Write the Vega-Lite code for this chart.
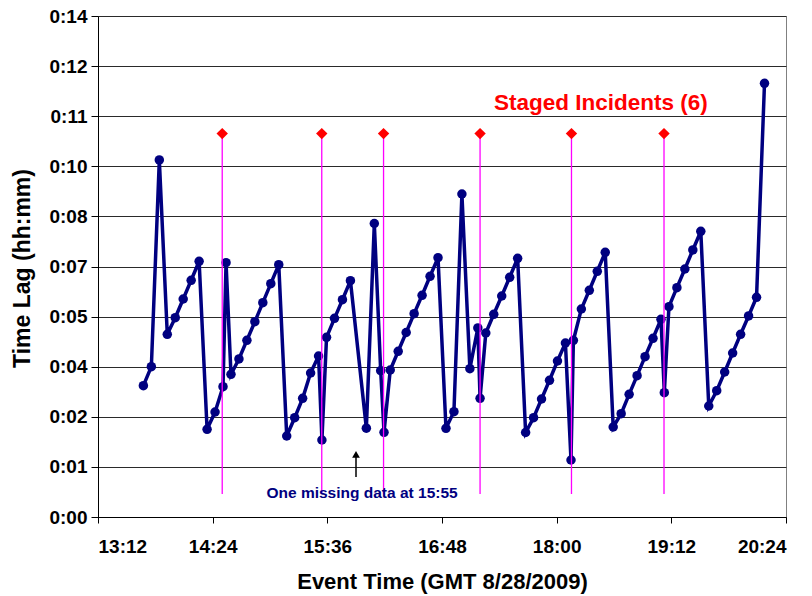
{
  "$schema": "https://vega.github.io/schema/vega-lite/v6.json",
  "width": 688,
  "height": 501,
  "autosize": {"type": "none"},
  "padding": {"left": 98, "top": 16, "right": 26, "bottom": 79},
  "background": "white",
  "config": {
    "font": "Liberation Sans",
    "view": {"stroke": "#808080", "strokeWidth": 1}
  },
  "datasets": {
    "series": [
      {"t": 820.5, "lag": 3.774}, {"t": 825.5, "lag": 4.320}, {"t": 830.5, "lag": 10.262}, {"t": 835.5, "lag": 5.252},
      {"t": 840.5, "lag": 5.729}, {"t": 845.5, "lag": 6.266}, {"t": 850.5, "lag": 6.804}, {"t": 855.5, "lag": 7.350},
      {"t": 860.5, "lag": 2.521}, {"t": 865.5, "lag": 3.018}, {"t": 870.5, "lag": 3.745}, {"t": 872.4, "lag": 7.310},
      {"t": 875.5, "lag": 4.102}, {"t": 880.5, "lag": 4.542}, {"t": 885.5, "lag": 5.079}, {"t": 890.5, "lag": 5.614},
      {"t": 895.5, "lag": 6.160}, {"t": 900.5, "lag": 6.706}, {"t": 905.5, "lag": 7.252}, {"t": 910.5, "lag": 2.328},
      {"t": 915.5, "lag": 2.854}, {"t": 920.5, "lag": 3.412}, {"t": 925.5, "lag": 4.139}, {"t": 930.5, "lag": 4.628},
      {"t": 932.6, "lag": 2.213}, {"t": 935.5, "lag": 5.165}, {"t": 940.5, "lag": 5.711}, {"t": 945.5, "lag": 6.246},
      {"t": 950.5, "lag": 6.792}, {"t": 960.5, "lag": 2.552}, {"t": 965.5, "lag": 8.436}, {"t": 969.5, "lag": 4.205},
      {"t": 971.6, "lag": 2.435}, {"t": 975.5, "lag": 4.225}, {"t": 980.5, "lag": 4.763}, {"t": 985.5, "lag": 5.303},
      {"t": 990.5, "lag": 5.844}, {"t": 995.5, "lag": 6.372}, {"t": 1000.5, "lag": 6.919}, {"t": 1005.5, "lag": 7.453},
      {"t": 1010.5, "lag": 2.550}, {"t": 1015.5, "lag": 3.027}, {"t": 1020.5, "lag": 9.284}, {"t": 1025.5, "lag": 4.263},
      {"t": 1030.5, "lag": 5.433}, {"t": 1031.9, "lag": 3.412}, {"t": 1035.5, "lag": 5.289}, {"t": 1040.5, "lag": 5.826},
      {"t": 1045.5, "lag": 6.352}, {"t": 1050.5, "lag": 6.890}, {"t": 1055.5, "lag": 7.436}, {"t": 1060.5, "lag": 2.429},
      {"t": 1065.5, "lag": 2.854}, {"t": 1070.5, "lag": 3.392}, {"t": 1075.5, "lag": 3.929}, {"t": 1080.5, "lag": 4.484},
      {"t": 1085.5, "lag": 5.001}, {"t": 1089.0, "lag": 1.638}, {"t": 1090.5, "lag": 5.079}, {"t": 1095.5, "lag": 5.979},
      {"t": 1100.5, "lag": 6.516}, {"t": 1105.5, "lag": 7.062}, {"t": 1110.5, "lag": 7.608}, {"t": 1115.5, "lag": 2.587},
      {"t": 1120.5, "lag": 2.969}, {"t": 1125.5, "lag": 3.527}, {"t": 1130.5, "lag": 4.062}, {"t": 1135.5, "lag": 4.608},
      {"t": 1140.5, "lag": 5.137}, {"t": 1145.5, "lag": 5.683}, {"t": 1147.6, "lag": 3.573}, {"t": 1150.5, "lag": 6.045},
      {"t": 1155.5, "lag": 6.591}, {"t": 1160.5, "lag": 7.128}, {"t": 1165.5, "lag": 7.675}, {"t": 1170.5, "lag": 8.212},
      {"t": 1175.5, "lag": 3.191}, {"t": 1180.5, "lag": 3.630}, {"t": 1185.5, "lag": 4.168}, {"t": 1190.5, "lag": 4.714},
      {"t": 1195.5, "lag": 5.252}, {"t": 1200.5, "lag": 5.778}, {"t": 1205.5, "lag": 6.315}, {"t": 1210.5, "lag": 12.466}
    ],
    "incidents": [
      {"t": 870.0, "top": 11.02, "bottom": 0.66},
      {"t": 932.5, "top": 11.02, "bottom": 0.66},
      {"t": 971.3, "top": 11.02, "bottom": 0.66},
      {"t": 1031.9, "top": 11.02, "bottom": 0.66},
      {"t": 1089.3, "top": 11.02, "bottom": 0.66},
      {"t": 1147.4, "top": 11.02, "bottom": 0.66}
    ],
    "notes": [
      {"t": 1107.8, "lag": 11.9, "label": "Staged Incidents (6)", "kind": "incidents"},
      {"t": 957.8, "lag": 0.69, "label": "One missing data at 15:55", "kind": "missing"}
    ],
    "arrow": [
      {"t": 954.0, "from": 1.15, "to": 1.8}
    ]
  },
  "encoding": {
    "x": {
      "field": "t", "type": "quantitative",
      "scale": {"domain": [792, 1224], "nice": false, "zero": false},
      "axis": {
        "title": "Event Time (GMT 8/28/2009)",
        "values": [792, 864, 936, 1008, 1080, 1152, 1224],
        "labelExpr": "floor(datum.value/60) + ':' + (datum.value % 60 < 10 ? '0' : '') + (datum.value % 60)",
        "grid": false,
        "domainColor": "#000000", "domainWidth": 1,
        "tickColor": "#000000", "tickSize": 6,
        "labelFontSize": 19, "labelFontWeight": "bold", "labelColor": "#000000", "labelPadding": 14,
        "titleFontSize": 22, "titleFontWeight": "bold", "titleColor": "#000000",
        "titleY": 64, "titleBaseline": "middle"
      }
    },
    "y": {
      "field": "lag", "type": "quantitative",
      "scale": {"domain": [0, 14.4], "nice": false, "zero": true},
      "axis": {
        "title": "Time Lag (hh:mm)",
        "values": [0, 1.44, 2.88, 4.32, 5.76, 7.2, 8.64, 10.08, 11.52, 12.96, 14.4],
        "labelExpr": "'0:' + (floor(datum.value + 0.001) < 10 ? '0' : '') + floor(datum.value + 0.001)",
        "grid": true, "gridColor": "#2a2a2a", "gridWidth": 1,
        "domainColor": "#000000", "domainWidth": 1,
        "tickColor": "#000000", "tickSize": 7,
        "labelFontSize": 19, "labelFontWeight": "bold", "labelColor": "#000000", "labelPadding": 4,
        "titleFontSize": 23, "titleFontWeight": "bold", "titleColor": "#000000",
        "titleX": -76, "titleY": 252, "titleAngle": -90, "titleAlign": "center", "titleBaseline": "middle"
      }
    }
  },
  "layer": [
    {
      "data": {"name": "series"},
      "mark": {"type": "line", "color": "#000080", "strokeWidth": 3.5},
      "encoding": {}
    },
    {
      "data": {"name": "series"},
      "mark": {"type": "point", "shape": "circle", "filled": true, "color": "#000080", "opacity": 1, "size": 90},
      "encoding": {}
    },
    {
      "data": {"name": "incidents"},
      "mark": {"type": "rule", "color": "#FF00FF", "strokeWidth": 1.3},
      "encoding": {"y": {"field": "top", "type": "quantitative"}, "y2": {"field": "bottom"}}
    },
    {
      "data": {"name": "incidents"},
      "mark": {"type": "point", "shape": "diamond", "filled": true, "color": "#FF0000", "opacity": 1, "size": 130},
      "encoding": {"y": {"field": "top", "type": "quantitative"}}
    },
    {
      "data": {"name": "arrow"},
      "mark": {"type": "rule", "color": "#000000", "strokeWidth": 1.5},
      "encoding": {"y": {"field": "from", "type": "quantitative"}, "y2": {"field": "to"}}
    },
    {
      "data": {"name": "arrow"},
      "mark": {"type": "point", "shape": "triangle-up", "filled": true, "color": "#000000", "opacity": 1, "size": 60},
      "encoding": {"y": {"field": "to", "type": "quantitative"}}
    },
    {
      "data": {"name": "notes"},
      "transform": [{"filter": "datum.kind == 'incidents'"}],
      "mark": {"type": "text", "color": "#FF0000", "fontSize": 22.5, "fontWeight": "bold", "align": "center", "baseline": "middle"},
      "encoding": {"text": {"field": "label"}}
    },
    {
      "data": {"name": "notes"},
      "transform": [{"filter": "datum.kind == 'missing'"}],
      "mark": {"type": "text", "color": "#000080", "fontSize": 15.5, "fontWeight": "bold", "align": "center", "baseline": "middle"},
      "encoding": {"text": {"field": "label"}}
    }
  ]
}
